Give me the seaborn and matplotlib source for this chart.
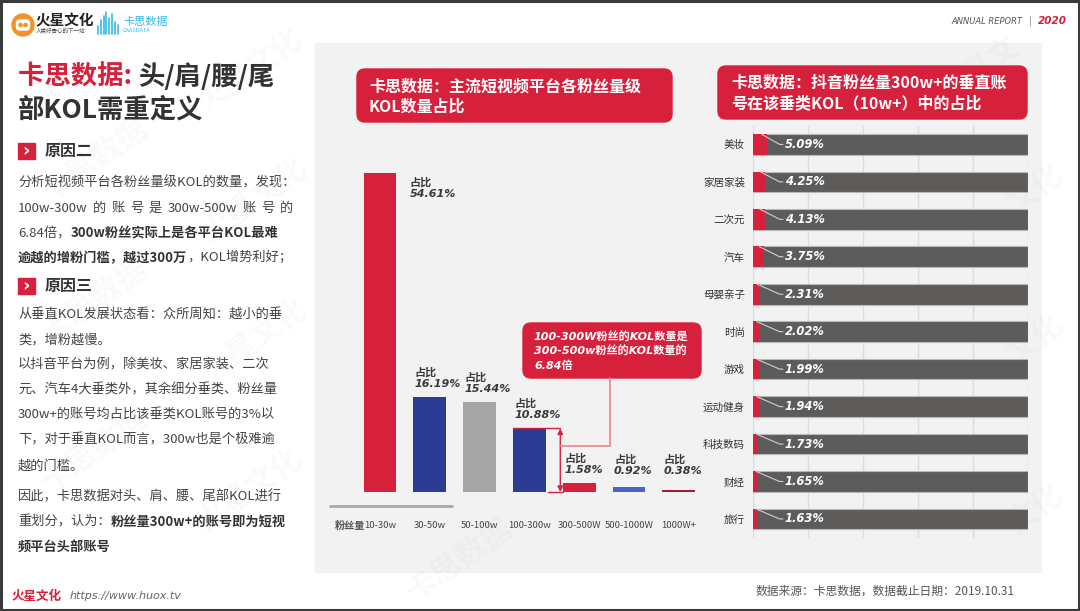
import matplotlib
matplotlib.use('Agg')
import matplotlib.pyplot as plt
import seaborn as sns
import pandas as pd
from matplotlib.patches import Rectangle, FancyBboxPatch, Circle

# chart data
levels = ['10-30w', '30-50w', '50-100w', '100-300w', '300-500W', '500-1000W', '1000W+']
level_share = [54.61, 16.19, 15.44, 10.88, 1.58, 0.92, 0.38]
level_colors = ['#d7203b', '#2b3c94', '#a5a5a5', '#2b3c94', '#d7203b', '#4a63c9', '#a11d2e']

verticals = ['美妆', '家居家装', '二次元', '汽车', '母婴亲子', '时尚', '游戏',
             '运动健身', '科技数码', '财经', '旅行']
vertical_share = [5.09, 4.25, 4.13, 3.75, 2.31, 2.02, 1.99, 1.94, 1.73, 1.65, 1.63]

RED = '#d7203b'
DARK = '#333333'
LATIN = ['DejaVu Sans', 'Noto Sans CJK SC']

sns.set_theme(style='white')
plt.rcParams['font.family'] = ['Noto Sans CJK SC', 'DejaVu Sans']

W, H = 1080, 611
fig = plt.figure(figsize=(10.8, 6.11), dpi=100)
fig.patch.set_facecolor('white')


def box(x0, y0, x1, y1):
    # pixel box (top-left origin) -> figure rect
    return [x0 / W, 1 - y1 / H, (x1 - x0) / W, (y1 - y0) / H]


def pixel_axes(z):
    a = fig.add_axes([0, 0, 1, 1], zorder=z)
    a.set_xlim(0, W)
    a.set_ylim(H, 0)
    a.axis('off')
    return a


bg = pixel_axes(-1)
top = pixel_axes(3)
renderer = fig.canvas.get_renderer()


def segments(ax, x, y, segs, size, **kw):
    for s, weight, color in segs:
        t = ax.text(x, y, s, fontsize=size, fontweight=weight, color=color,
                    ha='left', va='center', **kw)
        x += t.get_window_extent(renderer=renderer).width
    return x


# frame and grey panel
bg.add_patch(Rectangle((315, 43), 726, 529, color='#f2f2f2', zorder=0.5))
fig.patches.append(Rectangle((0.001, 0.002), 0.998, 0.996, transform=fig.transFigure,
                             fill=False, edgecolor='#3a3a3a', linewidth=2.2))

# faint watermarks
for wx, wy, wt in [(250, 70, '火星文化'), (95, 160, '卡思数据'), (255, 200, '火星文化'),
                   (95, 300, '卡思数据'), (255, 340, '火星文化'), (95, 450, '卡思数据'),
                   (250, 490, '火星文化'), (460, 560, '卡思数据'), (1035, 190, '文化'),
                   (1035, 340, '文化'), (1035, 510, '文化'), (980, 70, '火星文')]:
    bg.text(wx, wy, wt, rotation=35, fontsize=22, fontweight='bold', color='black',
            alpha=0.025, ha='center', va='center', zorder=1)

# logos
bg.add_patch(Circle((23, 25), 11, color='#f29228', zorder=2))
bg.add_patch(FancyBboxPatch((16.5, 20), 13, 10, boxstyle='round,pad=0,rounding_size=3',
                            color='white', zorder=2.1))
bg.add_patch(Circle((20.5, 25), 1.6, color='#f29228', zorder=2.2))
bg.add_patch(Circle((25.5, 25), 1.6, color='#f29228', zorder=2.2))
bg.text(36, 20, '火星文化', fontsize=10.5, fontweight='bold', color='#222', va='center')
bg.text(36, 31, '人类好奇心的下一站', fontsize=4, color='#444', va='center')
for k, hgt in enumerate([8, 14, 18, 22, 16, 20, 12, 9]):
    bg.plot([98 + k * 2.8, 98 + k * 2.8], [34, 34 - hgt], color='#35b8e6', lw=1.2)
bg.text(123, 22, '卡思数据', fontsize=8, color='#35b8e6', va='center')
bg.text(123, 31, 'CAASDATA', fontsize=4, color='#35b8e6', va='center')

# top right tag, laid out from the right edge
t = bg.text(1067, 21, '2020', fontsize=7.5, fontweight='bold', style='italic', color=RED,
            ha='right', va='center', family=LATIN)
xr = 1067 - t.get_window_extent(renderer=renderer).width - 6
t = bg.text(xr, 21, '|', fontsize=7, color='#888', ha='right', va='center', family=LATIN)
xr -= t.get_window_extent(renderer=renderer).width + 6
bg.text(xr, 21, 'ANNUAL REPORT', fontsize=6, style='italic', color='#555',
        ha='right', va='center', family=LATIN)

# left column title
segments(bg, 18, 77, [('卡思数据: ', 'bold', RED), ('头/肩/腰/尾', 'bold', DARK)], 19)
segments(bg, 18, 110, [('部KOL需重定义', 'bold', DARK)], 19)


def heading(y, label):
    bg.add_patch(Rectangle((18, y - 8), 17, 16, color=RED, zorder=2))
    bg.text(26.5, y, '›', fontsize=13, fontweight='bold', color='white',
            ha='center', va='center', family=LATIN)
    bg.text(45, y, label, fontsize=11.5, fontweight='bold', color=DARK, va='center')


BODY = '#444444'
BS = 9.5
heading(151, '原因二')
segments(bg, 18, 183, [('分析短视频平台各粉丝量级KOL的数量，发现：', 'normal', BODY)], BS)

# justified line
tokens = ['100w-300w', '的', '账', '号', '是', '300w-500w', '账', '号', '的']
widths = []
for tk in tokens:
    t = bg.text(0, 0, tk, fontsize=BS)
    widths.append(t.get_window_extent(renderer=renderer).width)
    t.remove()
gap = (293 - 18 - sum(widths)) / (len(tokens) - 1)
xj = 18
for tk, wd in zip(tokens, widths):
    bg.text(xj, 208, tk, fontsize=BS, color=BODY, va='center')
    xj += wd + gap

segments(bg, 18, 233, [('6.84倍，', 'normal', BODY),
                       ('300w粉丝实际上是各平台KOL最难', 'bold', DARK)], BS)
segments(bg, 18, 258, [('逾越的增粉门槛，越过300万', 'bold', DARK),
                       ('，KOL增势利好；', 'normal', BODY)], BS)

heading(286, '原因三')
para = [(315, '从垂直KOL发展状态看：众所周知：越小的垂'),
        (340, '类，增粉越慢。'),
        (365, '以抖音平台为例，除美妆、家居家装、二次'),
        (390, '元、汽车4大垂类外，其余细分垂类、粉丝量'),
        (415, '300w+的账号均占比该垂类KOL账号的3%以'),
        (440, '下，对于垂直KOL而言，300w也是个极难逾'),
        (466, '越的门槛。'),
        (497, '因此，卡思数据对头、肩、腰、尾部KOL进行')]
for yy, line in para:
    segments(bg, 18, yy, [(line, 'normal', BODY)], BS)
segments(bg, 18, 522, [('重划分，认为：', 'normal', BODY),
                       ('粉丝量300w+的账号即为短视', 'bold', DARK)], BS)
segments(bg, 18, 547, [('频平台头部账号', 'bold', DARK)], BS)

# footer
xf = segments(bg, 12, 596, [('火星文化', 'bold', RED)], 9)
segments(bg, xf + 8, 596, [('https://www.huox.tv', 'normal', '#666')], 8,
         style='italic', family=LATIN)
bg.text(1015, 591, '数据来源：卡思数据，数据截止日期：2019.10.31', fontsize=8.5,
        color='#555', ha='right', va='center')

# header boxes
for (x0, y0, w, h), lines, tx in [
        ((357, 69, 315, 53), ['卡思数据：主流短视频平台各粉丝量级', 'KOL数量占比'], 369),
        ((718, 66, 309, 53), ['卡思数据：抖音粉丝量300w+的垂直账', '号在该垂类KOL（10w+）中的占比'], 731)]:
    bg.add_patch(FancyBboxPatch((x0, y0), w, h, boxstyle='round,pad=0,rounding_size=8',
                                color=RED, zorder=2))
    for k, ln in enumerate(lines):
        bg.text(tx, y0 + 17 + k * 20.5, ln, fontsize=11.5, fontweight='bold',
                color='white', va='center', zorder=3)

# ---------- bar chart: share by follower level ----------
ax1 = fig.add_axes(box(355.1, 150, 703.7, 492))
df1 = pd.DataFrame({'level': levels, 'share': level_share})
sns.barplot(data=df1, x='level', y='share', hue='level', palette=level_colors,
            order=levels, hue_order=levels, legend=False, width=0.66, saturation=1,
            linewidth=0, ax=ax1)
ax1.set_xlim(-0.5, 6.5)
ax1.set_ylim(0, 342 / 5.84)
ax1.patch.set_alpha(0)
sns.despine(ax=ax1, left=True, bottom=True)
ax1.set_yticks([])
ax1.set_xlabel('')
ax1.set_ylabel('')
ax1.tick_params(axis='x', length=0, pad=21, labelsize=6.8, labelcolor='#444')

for i, v in enumerate(level_share):
    lbl = '占比\n%.2f%%' % v
    if i == 0:
        ax1.text(i + 0.6, v - 0.7, lbl, ha='left', va='top', fontsize=8,
                 fontweight='bold', style='italic', color='#3a3a3a', family=LATIN,
                 linespacing=1.15)
    else:
        ax1.text(i - 0.3, max(v + 1.4, 2.8), lbl, ha='left', va='bottom', fontsize=8,
                 fontweight='bold', style='italic', color='#3a3a3a', family=LATIN,
                 linespacing=1.15)

# double arrow between 100-300w and 300-500W
ax_x = 3.62
ax1.annotate('', xy=(ax_x, level_share[3]), xytext=(ax_x, 0),
             arrowprops=dict(arrowstyle='<|-|>', color=RED, lw=1, mutation_scale=8,
                             shrinkA=0, shrinkB=0), annotation_clip=False)
ax1.plot([3 - 0.33, ax_x], [level_share[3], level_share[3]], color=RED, lw=1, clip_on=False)
ax1.plot([3.37, 3.67], [0, 0], color=RED, lw=1, clip_on=False)

bg.plot([330, 452], [506, 506], color='#a8a8a8', lw=2)
bg.text(365, 526, '粉丝量', fontsize=7.3, fontweight='bold', color='#555',
        ha='right', va='center')

# callout
top.add_patch(FancyBboxPatch((523, 323), 178, 55, boxstyle='round,pad=0,rounding_size=8',
                             color=RED, zorder=2))
for k, ln in enumerate(['100-300W粉丝的KOL数量是', '300-500w粉丝的KOL数量的', '6.84倍']):
    top.text(534, 337 + k * 14.5, ln, fontsize=8, fontweight='bold', style='italic',
             color='white', va='center', family=LATIN, zorder=3)
top.plot([610, 610, 560], [378, 446, 446], color='#e98592', lw=1.2)

# ---------- horizontal bars: 300w+ share per vertical ----------
ax2 = fig.add_axes(box(753.3, 125.7, 1028, 537.7))
df2 = pd.DataFrame({'vertical': verticals, 'share': vertical_share,
                    'total': [100] * len(verticals)})
sns.barplot(data=df2, y='vertical', x='total', orient='h', color='#5e5c5b', width=0.55,
            saturation=1, edgecolor='#b9b9b9', linewidth=0.8, ax=ax2)
sns.barplot(data=df2, y='vertical', x='share', orient='h', color=RED, width=0.55,
            saturation=1, linewidth=0, ax=ax2)
ax2.set_xlim(0, 100)
ax2.set_ylim(10.5, -0.5)
ax2.patch.set_alpha(0)
ax2.set_xticks(range(0, 101, 20))
ax2.xaxis.grid(True, color='#dcdcdc', lw=1)
ax2.set_axisbelow(True)
sns.despine(ax=ax2, left=True, bottom=True)
ax2.tick_params(axis='x', length=0, labelbottom=False)
ax2.tick_params(axis='y', length=0, pad=6, labelsize=7.6, labelcolor=DARK)
ax2.set_xlabel('')
ax2.set_ylabel('')

for i, v in enumerate(vertical_share):
    ax2.plot([v * 0.6, 9.6, 10.8], [i - 0.27, i, i], color='#cfcfcf', lw=0.8, zorder=5)
    ax2.text(11.5, i, '%.2f%%' % v, color='white', fontsize=8.3, fontweight='bold',
             style='italic', va='center', ha='left', family=LATIN, zorder=6)

fig.savefig('out.png', dpi=100, facecolor='white')
